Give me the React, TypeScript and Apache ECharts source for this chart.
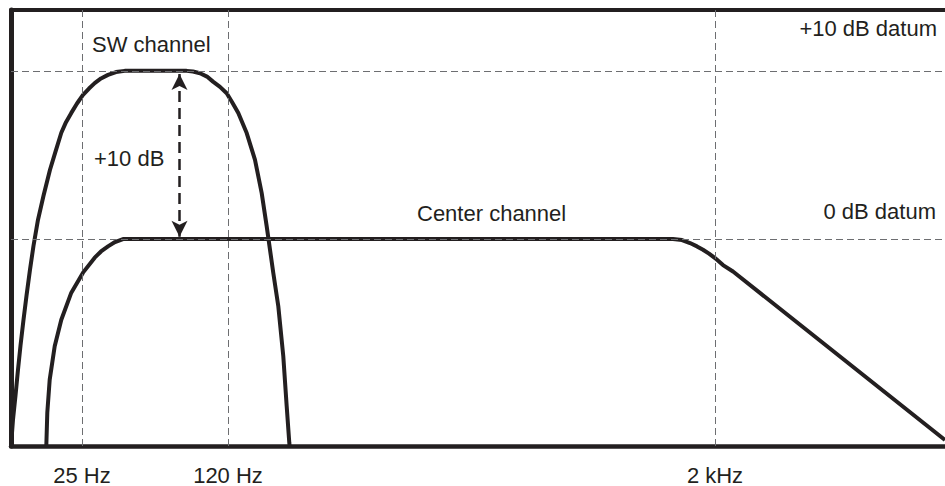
import React, { useEffect, useRef } from "react";
import * as echarts from "echarts";

// x: horizontal position along the (non-linear) frequency scale, in arbitrary units
// y: level in dB relative to the 0 dB datum
const xTickPositions = [71, 217, 704];
const xTickLabels = ["25 Hz", "120 Hz", "2 kHz"];
const datumLevels = [0, 10];

const swChannel: [number, number][] = [
  [0, -12.31], [2, -10.74], [4.5, -9.31], [7, -7.77], [9.5, -6.34], [12.5, -4.8],
  [15.5, -3.37], [19, -1.82], [22.5, -0.4], [27, 1.15], [32.5, 2.57], [39, 4.12],
  [44.5, 5.2], [50.3, 6.32], [55, 6.95], [60.3, 7.5], [66, 8.06], [72, 8.57],
  [78, 8.95], [83.7, 9.27], [90, 9.55], [97, 9.76], [105, 9.93], [113.7, 10], [175.7, 10],
  [182, 9.96], [189, 9.86], [196, 9.66], [202, 9.36], [209, 9.05],
  [215.7, 8.67], [221, 8.15], [227.3, 7.49], [235.7, 6.3], [244, 4.71], [250.7, 2.73],
  [255.7, 0.75], [262.3, -2.02], [267.3, -4.0], [272.3, -6.98], [275.7, -9.95],
  [278.3, -12.12], [278.6, -12.31],
];

const centerChannel: [number, number][] = [
  [35.3, -12.31], [36.3, -10.32], [38.7, -8.36], [43.7, -6.38], [50.3, -4.8],
  [60.3, -3.19], [72, -2.0], [83.7, -1.11], [90, -0.74], [97, -0.44], [104, -0.18],
  [112, 0], [662, 0], [671, -0.06], [679, -0.24], [686, -0.44], [692, -0.64],
  [698, -0.87], [704, -1.13], [712, -1.55], [722, -1.93], [934, -11.95],
];

const arrowX = 168.5;
const arrowFrom = 9.82;
const arrowTo = 0.14;

const X_MIN = 0;
const X_MAX = 934;
const Y_MIN = -12.31;
const Y_MAX = 13.62;

const INK = "#231f20";
const GRID = "#6d6e71";
const FONT = "'Liberation Sans', Arial, Helvetica, sans-serif";

export default function App() {
  const ref = useRef<HTMLDivElement>(null);

  useEffect(() => {
    if (!ref.current) return;
    const chart = echarts.init(ref.current, undefined, { renderer: "svg" });
    const textStyle = { fill: INK, fontSize: 22, fontFamily: FONT };
    chart.setOption({
      animation: false,
      grid: { left: 11, right: 0, top: 10, bottom: 39.5, containLabel: false },
      xAxis: [
        {
          type: "value",
          min: X_MIN,
          max: X_MAX,
          position: "bottom",
          axisLine: { show: true, onZero: false, lineStyle: { color: INK, width: 4.5 } },
          axisTick: { show: false },
          splitLine: { show: false },
          axisLabel: {
            show: true,
            customValues: xTickPositions,
            formatter: (v: number) => {
              const i = xTickPositions.indexOf(v);
              return i >= 0 ? xTickLabels[i] : "";
            },
            color: INK,
            fontSize: 22,
            fontFamily: FONT,
            margin: 18,
          },
        },
        {
          type: "value",
          min: X_MIN,
          max: X_MAX,
          position: "top",
          axisLine: { show: true, onZero: false, lineStyle: { color: INK, width: 4 } },
          axisTick: { show: false },
          axisLabel: { show: false },
          splitLine: { show: false },
        },
      ],
      yAxis: {
        type: "value",
        min: Y_MIN,
        max: Y_MAX,
        axisLine: { show: true, onZero: false, lineStyle: { color: INK, width: 5 } },
        axisTick: { show: false },
        axisLabel: { show: false },
        splitLine: { show: false },
      },
      series: [
        {
          name: "grid",
          type: "line",
          data: [],
          silent: true,
          z: 1,
          markLine: {
            silent: true,
            symbol: "none",
            label: { show: false },
            lineStyle: { color: GRID, width: 1, type: [7, 4] },
            data: [
              ...xTickPositions.map((x) => ({ xAxis: x })),
              ...datumLevels.map((y) => ({ yAxis: y })),
            ],
          },
        },
        {
          name: "arrow",
          type: "line",
          data: [],
          silent: true,
          z: 3,
          markLine: {
            silent: true,
            symbol: ["arrow", "arrow"],
            symbolSize: [12, 16],
            label: { show: false },
            lineStyle: { color: INK, width: 2.5, type: [11, 6] },
            data: [[{ coord: [arrowX, arrowFrom] }, { coord: [arrowX, arrowTo] }]],
          },
        },
        {
          name: "SW channel",
          type: "line",
          data: swChannel,
          showSymbol: false,
          symbol: "none",
          smooth: false,
          z: 4,
          lineStyle: { color: INK, width: 4, join: "round" },
        },
        {
          name: "Center channel",
          type: "line",
          data: centerChannel,
          showSymbol: false,
          symbol: "none",
          smooth: false,
          z: 4,
          lineStyle: { color: INK, width: 4, join: "round" },
        },
      ],
      graphic: [
        { type: "text", x: 92, y: 44, style: { ...textStyle, text: "SW channel", align: "left", verticalAlign: "middle" } },
        { type: "text", x: 94, y: 158, style: { ...textStyle, text: "+10 dB", align: "left", verticalAlign: "middle" } },
        { type: "text", x: 417, y: 213, style: { ...textStyle, text: "Center channel", align: "left", verticalAlign: "middle" } },
        { type: "text", x: 937, y: 28, style: { ...textStyle, text: "+10 dB datum", align: "right", verticalAlign: "middle" } },
        { type: "text", x: 936, y: 211, style: { ...textStyle, text: "0 dB datum", align: "right", verticalAlign: "middle" } },
      ],
    });
    return () => chart.dispose();
  }, []);

  return (
    <div
      ref={ref}
      style={{ position: "fixed", left: 0, top: 0, width: 945, height: 486, background: "#fff" }}
    />
  );
}
